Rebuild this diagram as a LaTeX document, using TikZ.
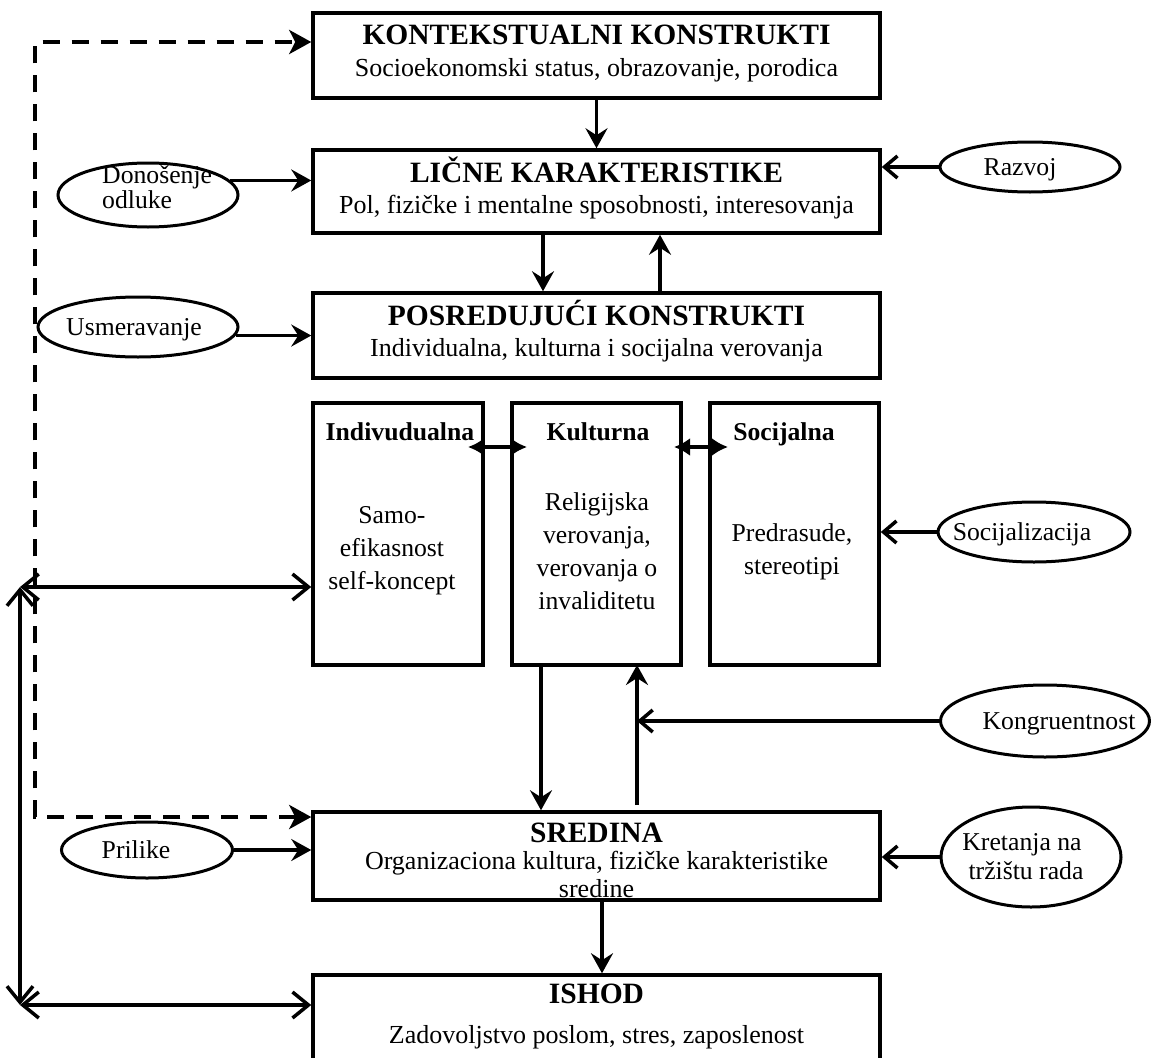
\documentclass[tikz,border=0pt]{standalone}
\usepackage{fontspec}
\setmainfont{Liberation Serif}
\usetikzlibrary{arrows.meta,shapes.geometric}
\begin{document}
\begin{tikzpicture}[x=1pt,y=-1pt,
  every node/.style={font=\fontsize{25.7}{30}\selectfont, inner sep=0pt},
  bigbox/.style={draw, line width=3.5pt, minimum width=567pt},
  smallbox/.style={draw, line width=3.5pt, minimum width=170pt, minimum height=262pt},
  oval/.style={draw, ellipse, line width=3pt},
  ttl/.style={anchor=base, font=\fontsize{29.5}{34}\selectfont\bfseries},
  sttl/.style={anchor=base, font=\fontsize{25.7}{30}\selectfont\bfseries},
  sub/.style={anchor=base, font=\fontsize{26}{30}\selectfont},
  lbl/.style={anchor=base},
  blk/.style={align=center, font=\fontsize{25.7}{33}\selectfont},
  conn/.style={line width=3.5pt},
  stl/.style={-{Stealth[length=20pt,width=22pt,inset=7pt]}},
  opn/.style={line cap=round, -{Straight Barb[length=13pt,width=22pt]}},
  opn2/.style={line cap=round, {Straight Barb[length=16pt,width=26pt]}-{Straight Barb[length=16pt,width=26pt]}},
  lat/.style={{Latex[length=16pt,width=18pt]}-{Latex[length=16pt,width=18pt]}},
  dsh/.style={line width=4pt, dash pattern=on 17pt off 12pt,
    {Stealth[length=22pt,width=24pt,inset=6pt]}-{Stealth[length=22pt,width=24pt,inset=6pt]}}
]
\useasboundingbox (0,0) rectangle (1153,1057);
\clip (0,0) rectangle (1153,1057);

% main boxes
\node[bigbox, minimum height=85pt] (kk) at (596.5,55.5) {};
\node[bigbox, minimum height=83pt] (lk) at (596.5,191.5) {};
\node[bigbox, minimum height=85pt] (pk) at (596.5,335.5) {};
\node[bigbox, minimum height=88pt] (sr) at (596.5,856) {};
\node[bigbox, minimum height=100pt] (ish) at (596.5,1025) {};

% texts in main boxes
\node[ttl] (kkt) at (596.5,45) {KONTEKSTUALNI KONSTRUKTI};
\node[sub] (kks) at (596.5,76) {Socioekonomski status, obrazovanje, porodica};
\node[ttl] (lkt) at (596.5,182) {LIČNE KARAKTERISTIKE};
\node[sub] (lks) at (596.5,213) {Pol, fizičke i mentalne sposobnosti, interesovanja};
\node[ttl] (pkt) at (596.5,325) {POSREDUJUĆI KONSTRUKTI};
\node[sub] (pks) at (596.5,356) {Individualna, kulturna i socijalna verovanja};
\node[ttl] (srt) at (596.5,842) {SREDINA};
\node[sub] (srs) at (596.5,869) {Organizaciona kultura, fizičke karakteristike};
\node[sub] (srs2) at (596.5,897) {sredine};
\node[ttl] (isht) at (596.5,1003) {ISHOD};
\node[sub] (ishs) at (596.5,1043) {Zadovoljstvo poslom, stres, zaposlenost};

% small boxes
\node[smallbox] (ib) at (398,534) {};
\node[smallbox, minimum width=169pt] (kb) at (596.5,534) {};
\node[smallbox, minimum width=169pt] (sb) at (794.5,534) {};
\node[sttl] (ibt) at (400,440) {Indivudualna};
\node[sttl] (kbt) at (598,440) {Kulturna};
\node[sttl] (sbt) at (784,440) {Socijalna};
\node[blk] (ibx) at (392,551) {Samo-\\efikasnost\\self-koncept};
\node[blk] (kbx) at (597,551) {Religijska\\verovanja,\\verovanja o\\invaliditetu};
\node[blk] (sbx) at (792,552) {Predrasude,\\stereotipi};

% ellipses
\node[oval, minimum width=180pt, minimum height=64pt] (don) at (148,195) {};
\node[anchor=base west] (dont1) at (102,183) {Donošenje};
\node[anchor=base west] (dont2) at (102,208) {odluke};
\node[oval, minimum width=180pt, minimum height=50pt] (raz) at (1030,167) {};
\node[lbl] (razt) at (1020,175) {Razvoj};
\node[oval, minimum width=200pt, minimum height=60pt] (usm) at (138,327) {};
\node[lbl] (usmt) at (134,335) {Usmeravanje};
\node[oval, minimum width=192pt, minimum height=60pt] (szc) at (1034,532) {};
\node[lbl] (szct) at (1022,540) {Socijalizacija};
\node[oval, minimum width=209pt, minimum height=72pt] (kon) at (1045,721) {};
\node[lbl] (kont) at (1059,729) {Kongruentnost};
\node[oval, minimum width=171pt, minimum height=56pt] (pri) at (147,850) {};
\node[lbl] (prit) at (136,858) {Prilike};
\node[oval, minimum width=180pt, minimum height=100pt] (kre) at (1031,857) {};
\node[lbl] (kret1) at (1022,850) {Kretanja na};
\node[lbl] (kret2) at (1026,879) {tržištu rada};

% vertical connectors in the main column
\draw[conn,stl] (kk.south) -- (lk.north);
\coordinate (lkd) at (543,233);
\draw[conn,stl] (lkd) -- (lkd |- pk.north);
\coordinate (pku) at (660,293);
\draw[conn,stl] (pku) -- (pku |- lk.south);
\coordinate (kd) at (541,665);
\draw[conn,stl] (kd) -- (kd |- sr.north);
\coordinate (ku0) at (637,805);
\coordinate (ku1) at (637,665);
\draw[conn,stl] (ku0) -- (ku1);
\coordinate (sd) at (602,900);
\draw[conn,stl] (sd) -- (sd |- ish.north);

% double arrows between small boxes
\coordinate (a1) at (468,447);
\coordinate (a2) at (527,447);
\draw[conn,lat] (a1) -- (a2);
\coordinate (a3) at (674,447);
\coordinate (a4) at (728,447);
\draw[conn,lat] (a3) -- (a4);

% ellipse connectors
\draw[conn,stl] (don.10) -- (lk.west |- don.10);
\draw[conn,stl] (usm.-5) -- (pk.west |- usm.-5);
\draw[conn,opn] (raz.west) -- (lk.east |- raz.west);
\draw[conn,opn] (szc.west) -- (sb.east |- szc.west);
\draw[conn,opn] (kon.west) -- (kon.west -| ku1);
\draw[conn,stl] (pri.east) -- (sr.west |- pri.east);
\draw[conn,opn] (kre.west) -- (sr.east |- kre.west);

% left feedback lines
\coordinate (dt) at (35,42);
\coordinate (db) at (35,817);
\draw[dsh] (sr.west |- db) -- (db) -- (dt) -- (kk.west |- dt);
\coordinate (L1) at (20,587);
\coordinate (L2) at (20,1005);
\draw[conn,opn2] (L1) -- (ib.west |- L1);
\draw[conn,opn2] (L1) -- (L2);
\draw[conn,opn2] (L2) -- (ish.west |- L2);
\end{tikzpicture}
\end{document}
